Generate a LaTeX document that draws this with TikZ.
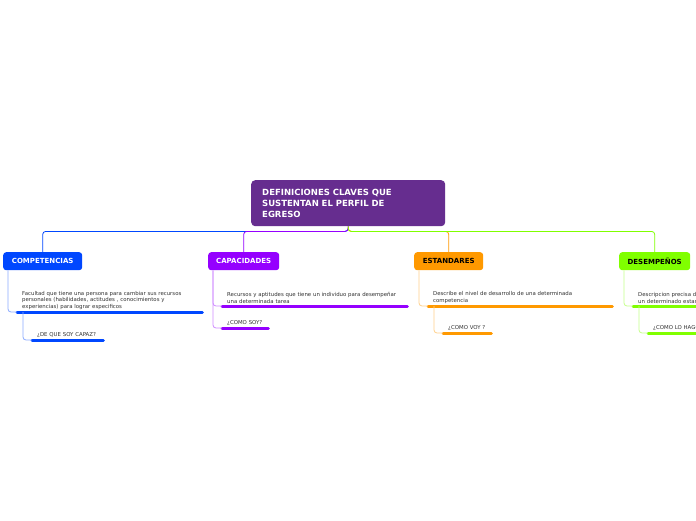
\documentclass[tikz,border=0pt]{standalone}
\usepackage{fontspec}
\setmainfont{DejaVu Sans}
\usetikzlibrary{positioning}
\definecolor{MMRoot}{HTML}{662D8F}
\definecolor{MMBlue}{HTML}{0047FF}
\definecolor{MMPurple}{HTML}{9500FF}
\definecolor{MMOrange}{HTML}{FF9900}
\definecolor{MMGreen}{HTML}{80FF00}
\definecolor{MMText}{HTML}{333333}

\tikzset{
  rootbox/.style={fill=MMRoot, text=white, rounded corners=4, anchor=north west,
    text width=172, inner xsep=11, minimum height=46, align=left,
    font=\bfseries\fontsize{8.5}{11}\selectfont},
  topic/.style={fill=#1, rounded corners=3, anchor=north west, minimum height=18,
    inner xsep=0, font=\bfseries\fontsize{7}{8}\selectfont},
  desc/.style={anchor=south west, inner xsep=5, inner ysep=2.2, align=left,
    text=MMText, font=\fontsize{5.4}{6.6}\selectfont},
  uline/.style={draw=#1, line width=3, line cap=round},
  link/.style={draw=#1, line width=0.8, rounded corners=3},
}

\begin{document}
\begin{tikzpicture}[x=1pt,y=-1pt]
\clip (0,0) rectangle (696,520);
\fill[white] (0,0) rectangle (696,520);

\node[rootbox] (root) at (251,180) {DEFINICIONES CLAVES QUE\\SUSTENTAN EL PERFIL DE\\EGRESO};

% main topics
\node[topic=MMBlue, text=white, minimum width=79] (comp) at (3,252) {COMPETENCIAS};
\node[topic=MMPurple, text=white, minimum width=71] (capa) at (208,252) {CAPACIDADES};
\node[topic=MMOrange, text=black, minimum width=69] (esta) at (414,252) {ESTANDARES};
\node[topic=MMGreen, text=black, minimum width=71] (dese) at (619,252) {DESEMPEÑOS};

\draw[link=MMBlue] (root.south) -- ++(0,5) -| (comp.north);
\draw[link=MMPurple] (root.south) -- ++(0,5) -| (capa.north);
\draw[link=MMOrange] (root.south) -- ++(0,5) -| (esta.north);
\draw[link=MMGreen] (root.south) -- ++(0,5) -| (dese.north);

% COMPETENCIAS
\node[desc, text width=175] (compd) at (17,312) {Facultad que tiene una persona para cambiar sus recursos\\personales (habilidades, actitudes , conocimientos y\\experiencias) para lograr especificos};
\node[desc, text width=61] (compq) at (32,340) {\mbox{¿DE QUE SOY CAPAZ?}};
\draw[uline=MMBlue] (compd.south west) -- (compd.south east);
\draw[uline=MMBlue] (compq.south west) -- (compq.south east);
\draw[link=MMBlue!45] ([xshift=5]comp.south west) |- (compd.south west);
\draw[link=MMBlue!45] ([xshift=6]compd.south west) |- (compq.south west);

% CAPACIDADES
\node[desc, text width=175] (capad) at (222,306) {Recursos y aptitudes que tiene un individuo para desempeñar\\una determinada tarea};
\node[desc, text width=36] (capaq) at (222,328) {\mbox{¿COMO SOY?}};
\draw[uline=MMPurple] (capad.south west) -- (capad.south east);
\draw[uline=MMPurple] (capaq.south west) -- (capaq.south east);
\draw[link=MMPurple!45] ([xshift=5]capa.south west) |- (capad.south west);
\draw[link=MMPurple!45] ([xshift=5]capa.south west) |- (capaq.south west);

% ESTANDARES
\node[desc, text width=174] (estad) at (428,306) {Describe el nivel de desarrollo de una determinada\\competencia};
\node[desc, text width=38] (estaq) at (443,333) {\mbox{¿COMO VOY ?}};
\draw[uline=MMOrange] (estad.south west) -- (estad.south east);
\draw[uline=MMOrange] (estaq.south west) -- (estaq.south east);
\draw[link=MMOrange!45] ([xshift=5]esta.south west) |- (estad.south west);
\draw[link=MMOrange!45] ([xshift=6]estad.south west) |- (estaq.south west);

% DESEMPEÑOS
\node[desc, text width=175] (desed) at (633,306) {Descripcion precisa de lo que hace el estudiante\\un determinado estandar};
\node[desc, text width=50] (deseq) at (648,333) {\mbox{¿COMO LO HAGO?}};
\draw[uline=MMGreen] (desed.south west) -- (desed.south east);
\draw[uline=MMGreen] (deseq.south west) -- (deseq.south east);
\draw[link=MMGreen!45] ([xshift=5]dese.south west) |- (desed.south west);
\draw[link=MMGreen!45] ([xshift=6]desed.south west) |- (deseq.south west);
\end{tikzpicture}
\end{document}
